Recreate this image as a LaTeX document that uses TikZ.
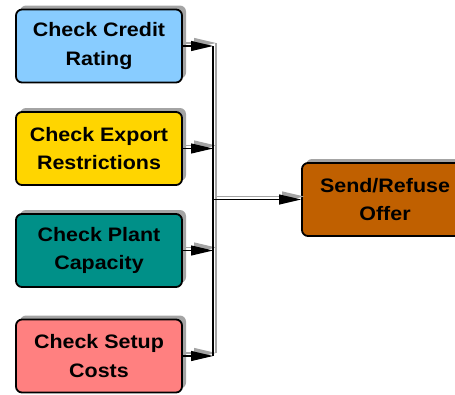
\documentclass[tikz,border=0pt]{standalone}
\usepackage{fontspec}
\setmainfont[FakeStretch=1.1]{Liberation Sans}
\usetikzlibrary{arrows.meta,shadows}
\definecolor{creditblue}{HTML}{88CCFF}
\definecolor{exportgold}{HTML}{FFD500}
\definecolor{plantteal}{HTML}{009088}
\definecolor{setupred}{HTML}{FF8080}
\definecolor{offerbrown}{HTML}{C06000}
\definecolor{shadowgray}{HTML}{A4A4A4}

\begin{document}
\begin{tikzpicture}[x=1pt, y=-1pt,
  task/.style={draw, line width=1.8pt, rounded corners=6pt, minimum width=166pt,
    minimum height=73pt, align=center, inner sep=0pt,
    font=\fontsize{19.5}{28.5}\selectfont\bfseries,
    drop shadow={shadow xshift=4pt, shadow yshift=4pt, fill=shadowgray, opacity=1}},
  flow/.style={line width=1.1pt, -{Triangle[length=22pt,width=10pt]}},
  bar/.style={line width=1.1pt}]
  \useasboundingbox (0,0) rectangle (455,394);
  \clip (0,0) rectangle (455,394);

  \node[task, fill=creditblue] (credit) at (99,46) {Check Credit\\Rating};
  \node[task, fill=exportgold] (export) at (99,148.5) {Check Export\\Restrictions};
  \node[task, fill=plantteal] (plant) at (99,250.5) {Check Plant\\Capacity};
  \node[task, fill=setupred] (setup) at (99,356) {Check Setup\\Costs};
  \node[task, fill=offerbrown] (offer) at (385,199.5) {Send/Refuse\\Offer};

  \coordinate (bus) at (213,0);

  % shadows of the connectors first
  \begin{scope}[transform canvas={shift={(3pt,3pt)}}, draw=shadowgray, color=shadowgray]
    \draw[bar] (credit -| bus) -- (setup -| bus);
    \foreach \n in {credit,export,plant,setup}
      \draw[flow] (\n) -- (\n -| bus);
    \draw[flow] (offer -| bus) -- (offer);
  \end{scope}

  \draw[bar] (credit -| bus) -- (setup -| bus);
  \foreach \n in {credit,export,plant,setup}
    \draw[flow] (\n) -- (\n -| bus);
  \draw[flow] (offer -| bus) -- (offer);
\end{tikzpicture}
\end{document}
